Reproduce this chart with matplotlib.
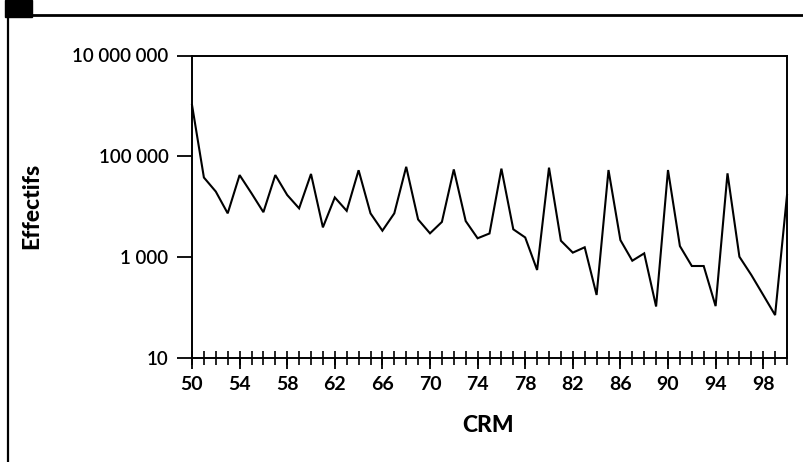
import matplotlib
matplotlib.use("Agg")
import matplotlib.pyplot as plt
from matplotlib.ticker import FixedLocator, MultipleLocator, NullLocator
from matplotlib.patches import Rectangle
from matplotlib.lines import Line2D

# ---- data ----
crm = list(range(50, 101))
effectifs = [
    1050000, 38000, 20000, 7400, 42500, 18500, 7800, 42500, 17100, 9300,
    44700, 3900, 15300, 8300, 53000, 7400, 3350, 7400, 62000, 5600,
    2970, 5000, 55000, 5200, 2370, 2950, 57000, 3570, 2460, 557,
    59600, 2120, 1230, 1570, 178, 53500, 2180, 850, 1190, 105,
    53500, 1660, 668, 668, 107, 46000, 1020, 444, 178, 71,
    17000,
]
y_ticks = [10, 1000, 100000, 10000000]
y_tick_labels = ["10", "1 000", "100 000", "10 000 000"]
x_tick_values = list(range(50, 100, 4))
x_label = "CRM"
y_label = "Effectifs"

plt.rcParams['font.family'] = ['Lato', 'DejaVu Sans']

W, H = 804, 462
fig = plt.figure(figsize=(W / 100, H / 100), dpi=100)
ax = fig.add_axes([192 / W, 1 - 358 / H, 595 / W, 302.5 / H])

ax.plot(crm, effectifs, color='black', lw=1.5, solid_joinstyle='miter', clip_on=False)
ax.set_yscale('log')
ax.set_xlim(50, 100)
ax.set_ylim(10, 1e7)

ax.yaxis.set_major_locator(FixedLocator(y_ticks))
ax.yaxis.set_minor_locator(NullLocator())
ax.set_yticklabels(y_tick_labels, fontweight='semibold')
ax.tick_params(axis='y', which='major', direction='out', length=11, width=1.3,
               pad=6, labelsize=13.5)

ax.xaxis.set_major_locator(FixedLocator(x_tick_values))
ax.xaxis.set_minor_locator(MultipleLocator(1))
ax.xaxis.remove_overlapping_locs = False
ax.set_xticklabels([str(v) for v in x_tick_values], fontweight='bold')
ax.tick_params(axis='x', which='major', direction='out', length=8, width=1.3,
               pad=5, labelsize=14)
ax.tick_params(axis='x', which='minor', direction='inout', length=9.5, width=1.2)

for s in ax.spines.values():
    s.set_linewidth(1.4)

ax.set_xlabel(x_label, fontsize=16.5, fontweight='black')
ax.xaxis.set_label_coords(0.4975, -0.2215)
ax.xaxis.label.set_va('center')
ax.set_ylabel(y_label, fontsize=16.5, fontweight='black')
ax.yaxis.set_label_coords(-0.269, 0.502)
ax.yaxis.label.set_va('center')

# frame decoration of the scanned figure
fig.patches.append(Rectangle((5 / W, 1 - 17 / H), 27 / W, 17 / H,
                             transform=fig.transFigure, color='black'))
fig.lines.append(Line2D([32 / W, 1], [1 - 15 / H, 1 - 15 / H],
                        transform=fig.transFigure, color='black', lw=2))
fig.lines.append(Line2D([8 / W, 8 / W], [0, 1 - 15 / H],
                        transform=fig.transFigure, color='black', lw=1.6))

fig.savefig("out.png", dpi=100)
